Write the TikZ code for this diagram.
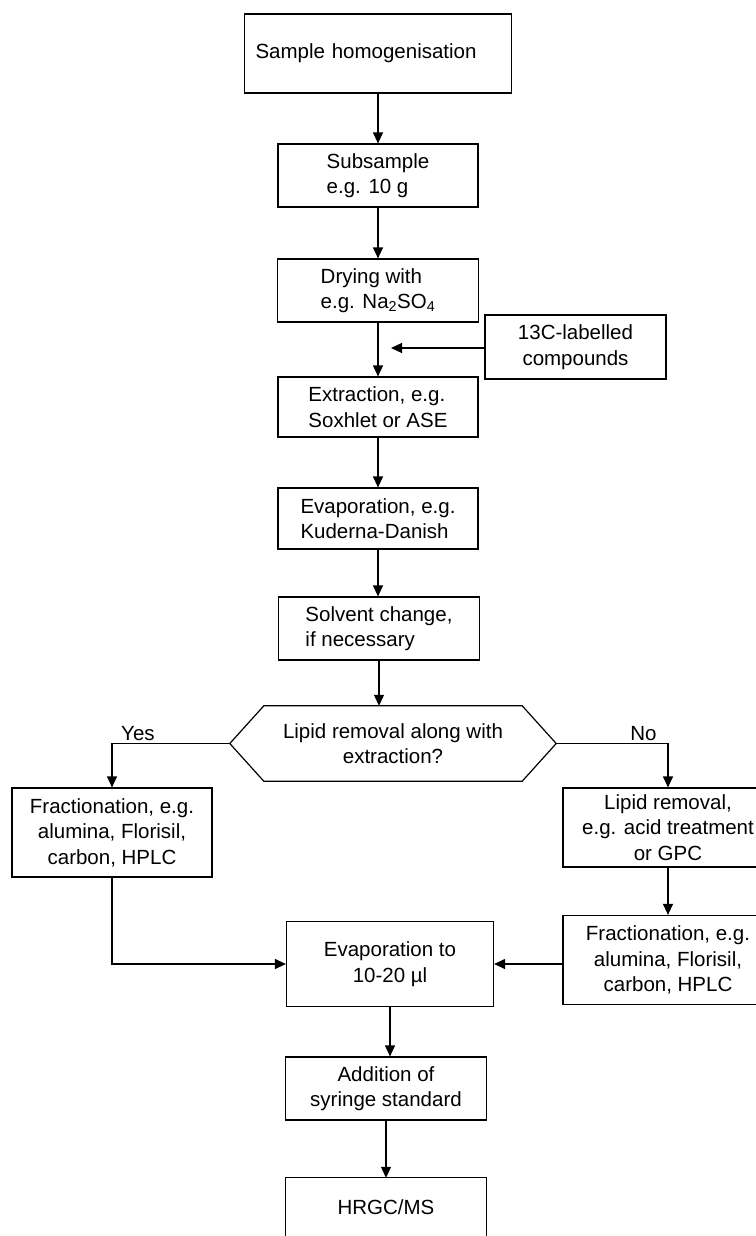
\documentclass[tikz,border=0pt]{standalone}
\usepackage{fontspec}
\setmainfont{Liberation Sans}
\usetikzlibrary{arrows.meta}

\begin{document}
\begin{tikzpicture}[x=1pt, y=1pt,
	box/.style={draw, line width=1.2pt, inner sep=0pt, font=\fontsize{20.5}{25.5}\selectfont},
	hidden/.style={inner sep=0pt, font=\fontsize{20.5}{25.5}\selectfont},
	lbl/.style={inner sep=2pt, font=\fontsize{20.5}{25.5}\selectfont},
	edge/.style={line width=1.2pt},
	arr/.style={line width=1.2pt, -{Triangle[length=11pt, width=10pt]}}]

	\useasboundingbox (0,0) rectangle (755,-1236);

	\node
		[box, minimum width=267pt, minimum height=79pt, text width=245pt, align=left]
		(homog) at (378,-53.5) {Sample homogenisation};
	\node
		[box, minimum width=200pt, minimum height=63pt, align=left]
		(sub) at (378,-175.5) {Subsample\\e.g. 10 g};
	\node
		[box, minimum width=201pt, minimum height=63pt, align=left]
		(dry) at (378,-290.5) {Drying with\\e.g. Na\textsubscript{2}SO\textsubscript{4}};
	\node
		[box, minimum width=181pt, minimum height=64pt, align=center]
		(label13) at (575.5,-347) {13C-labelled\\compounds};
	\node
		[box, minimum width=200pt, minimum height=60pt, align=left]
		(extr) at (378,-407) {Extraction, e.g.\\Soxhlet or ASE};
	\node
		[box, minimum width=200pt, minimum height=61pt, align=left]
		(evap) at (378,-518.5) {Evaporation, e.g.\\Kuderna-Danish};
	\node
		[box, minimum width=201pt, minimum height=63pt, align=left]
		(solv) at (379,-628.5) {Solvent change,\\if necessary};

	\node
		[hidden, minimum width=326pt, minimum height=75pt, align=center]
		(dec) at (393,-743.5) {Lipid removal along with\\extraction?};
	\draw
		[edge] (dec.west) -- ([xshift=34pt]dec.north west) -- ([xshift=-34pt]dec.north east)
		-- (dec.east) -- ([xshift=-34pt]dec.south east) -- ([xshift=34pt]dec.south west) -- cycle;

	\node
		[box, minimum width=200pt, minimum height=89pt, align=center]
		(fracL) at (112,-832.5) {Fractionation, e.g.\\alumina, Florisil,\\carbon, HPLC};
	\node
		[box, minimum width=210pt, minimum height=79pt, align=center]
		(lipid) at (668,-827.5) {Lipid removal,\\e.g. acid treatment\\or GPC};
	\node
		[box, minimum width=210pt, minimum height=89pt, align=center]
		(fracR) at (668,-960) {Fractionation, e.g.\\alumina, Florisil,\\carbon, HPLC};
	\node
		[box, minimum width=207pt, minimum height=85pt, align=center]
		(evapto) at (390,-964) {Evaporation to\\10-20 µl};
	\node
		[box, minimum width=201pt, minimum height=63pt, align=center]
		(add) at (386,-1088.5) {Addition of\\syringe standard};
	\node
		[hidden, minimum width=201pt, minimum height=58pt]
		(hrgc) at (386,-1207) {HRGC/MS};
	\draw
		[edge] (hrgc.south west) -- (hrgc.north west) -- (hrgc.north east) -- (hrgc.south east);

	\coordinate (inlet) at (391,-348);

	\draw [arr] (homog) -- (homog |- sub.north);
	\draw [arr] (sub) -- (sub |- dry.north);
	\draw [arr] (dry) -- (dry |- extr.north);
	\draw [arr] (label13.west |- inlet) -- (inlet);
	\draw [arr] (extr) -- (extr |- evap.north);
	\draw [arr] (evap) -- (evap |- solv.north);
	\draw [arr] (solv.south) -- (solv.south |- dec.north);

	\draw
		[arr] (dec.west) -| node [lbl, above, pos=0.39] (yes) {Yes} (fracL.north);
	\draw
		[arr] (dec.east) -| node [lbl, above, pos=0.39] (no) {No} (lipid.north);

	\draw [arr] (lipid) -- (lipid |- fracR.north);
	\draw [arr] (fracL.south) |- (evapto.west);
	\draw [arr] (fracR.west |- evapto.east) -- (evapto.east);
	\draw [arr] (evapto) -- (evapto |- add.north);
	\draw [arr] (add) -- (add |- hrgc.north);
\end{tikzpicture}
\end{document}
